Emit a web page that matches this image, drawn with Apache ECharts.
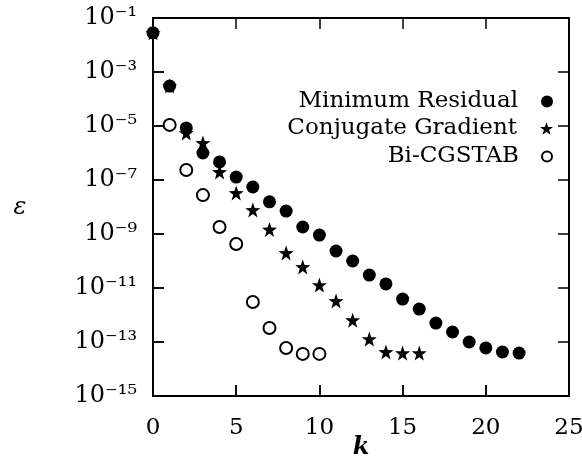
<!DOCTYPE html>
<html><head><meta charset="utf-8">
<script src="https://cdn.jsdelivr.net/npm/echarts@6/dist/echarts.min.js"></script>
<style>html,body{margin:0;padding:0;background:#fff}#wrap{position:relative;width:582px;height:467px}#c,#f{position:absolute;left:0;top:0;width:582px;height:467px}#f{pointer-events:none}</style>
</head><body><div id="wrap"><div id="c"></div><div id="f"></div></div>
<script>
const seriesNames = ['Minimum Residual', 'Conjugate Gradient', 'Bi-CGSTAB'];
const kMR = [0,1,2,3,4,5,6,7,8,9,10,11,12,13,14,15,16,17,18,19,20,21,22];
const expMR = [-1.55,-3.52,-5.07,-6.0,-6.33,-6.89,-7.26,-7.81,-8.15,-8.74,-9.04,-9.63,-10.0,-10.52,-10.85,-11.41,-11.78,-12.30,-12.63,-13.0,-13.22,-13.37,-13.41];
const kCG = [0,1,2,3,4,5,6,7,8,9,10,11,12,13,14,15,16];
const expCG = [-1.55,-3.52,-5.26,-5.63,-6.70,-7.48,-8.11,-8.83,-9.70,-10.22,-10.89,-11.48,-12.19,-12.89,-13.37,-13.41,-13.41];
const kBi = [1,2,3,4,5,6,7,8,9,10];
const expBi = [-4.96,-6.63,-7.56,-8.74,-9.37,-11.52,-12.48,-13.22,-13.44,-13.44];
const xTicks = [0,5,10,15,20,25];
const yTickExps = [-15,-13,-11,-9,-7,-5,-3,-1];
const xName = 'k';
const yName = 'ε';

const toPts = (ks, es) => ks.map((k, i) => [k, Math.pow(10, es[i])]);
const star = 'path://M0,-1 L0.235,-0.324 L0.951,-0.309 L0.380,0.124 L0.588,0.809 L0,0.4 L-0.588,0.809 L-0.380,0.124 L-0.951,-0.309 L-0.235,-0.324 Z';
const serif = 'DejaVu Serif';
const sup = {'-': '⁻', '0': '⁰', '1': '¹', '2': '²', '3': '³', '4': '⁴', '5': '⁵', '6': '⁶', '7': '⁷', '8': '⁸', '9': '⁹'};
const xMin = xTicks[0], xMax = xTicks[xTicks.length - 1];
const yMin = Number('1e' + yTickExps[0]), yMax = Number('1e' + yTickExps[yTickExps.length - 1]);
const gridRect = {left: 153, right: 13, top: 18, bottom: 71, outerBoundsMode: 'none'};

const axisCommon = () => ({
  axisLine: {show: true, onZero: false, lineStyle: {color: '#000', width: 2}},
  axisTick: {show: true, inside: true, length: 11, lineStyle: {color: '#000', width: 1.5}},
  splitLine: {show: false}
});
const legendBase = (name, top) => ({
  data: [name], orient: 'vertical', align: 'right', right: 24, top: top,
  itemWidth: 14, itemHeight: 12, itemGap: 0,
  textStyle: {fontFamily: serif, fontSize: 23, color: '#000', padding: [0, 18, 0, 0]}
});

// Main chart: labels, legend, data
const chart = echarts.init(document.getElementById('c'), null, {renderer: 'canvas'});
chart.setOption({
  animation: false,
  backgroundColor: '#fff',
  grid: gridRect,
  legend: [
    Object.assign(legendBase(seriesNames[0], 85), {itemWidth: 12, itemHeight: 12}),
    Object.assign(legendBase(seriesNames[1], 112), {itemWidth: 13, itemHeight: 13}),
    Object.assign(legendBase(seriesNames[2], 140), {itemWidth: 10, itemHeight: 10})
  ],
  graphic: [
    {type: 'text', x: 361, y: 448, style: {text: xName, fontFamily: serif, fontStyle: 'italic', fontWeight: 'bold', fontSize: 24, fill: '#000', align: 'center', verticalAlign: 'middle'}},
    {type: 'text', x: 20, y: 208, style: {text: yName, fontFamily: serif, fontStyle: 'italic', fontSize: 24, fill: '#000', align: 'center', verticalAlign: 'middle'}}
  ],
  xAxis: [
    Object.assign({type: 'value', position: 'bottom', min: xMin, max: xMax, interval: 5,
      axisLabel: {fontFamily: serif, fontSize: 23, color: '#000', margin: 21}}, axisCommon())
  ],
  yAxis: [
    Object.assign({type: 'log', position: 'left', logBase: 10, min: yMin, max: yMax, interval: 2,
      axisLabel: {fontFamily: serif, fontSize: 24, color: '#000', margin: 16,
        formatter: function (v) {
          const e = String(Math.round(Math.log10(v)));
          return '10' + e.split('').map(c => sup[c] || c).join('');
        }}}, axisCommon())
  ],
  series: [
    {name: seriesNames[0], type: 'scatter', data: toPts(kMR, expMR), symbol: 'circle', symbolSize: 13,
      itemStyle: {color: '#000', opacity: 1}},
    {name: seriesNames[1], type: 'scatter', data: toPts(kCG, expCG), symbol: star, symbolSize: 15,
      itemStyle: {color: '#000', opacity: 1}},
    {name: seriesNames[2], type: 'scatter', data: toPts(kBi, expBi), symbol: 'emptyCircle', symbolSize: 12,
      itemStyle: {color: '#000', borderColor: '#000', borderWidth: 1.5, opacity: 1}}
  ]
});

// Overlay: frame with inward ticks on all four sides, same scales
const frame = echarts.init(document.getElementById('f'), null, {renderer: 'canvas'});
frame.setOption({
  animation: false,
  backgroundColor: 'transparent',
  grid: gridRect,
  xAxis: [
    Object.assign({type: 'value', position: 'bottom', min: xMin, max: xMax, interval: 5, axisLabel: {show: false}}, axisCommon()),
    Object.assign({type: 'value', position: 'top', min: xMin, max: xMax, interval: 5, axisLabel: {show: false}}, axisCommon())
  ],
  yAxis: [
    Object.assign({type: 'log', position: 'left', logBase: 10, min: yMin, max: yMax, interval: 2, axisLabel: {show: false}}, axisCommon()),
    Object.assign({type: 'log', position: 'right', logBase: 10, min: yMin, max: yMax, interval: 2, axisLabel: {show: false}}, axisCommon())
  ],
  series: [{type: 'scatter', data: []}]
});
</script></body></html>
